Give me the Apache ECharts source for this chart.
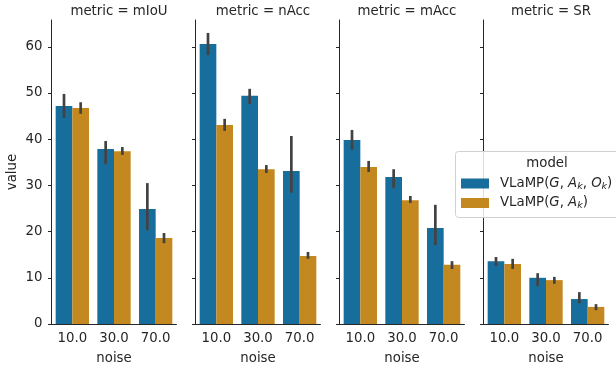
<!DOCTYPE html>
<html>
<head>
<meta charset="utf-8">
<script src="https://cdn.jsdelivr.net/npm/echarts@6/dist/echarts.min.js"></script>
<style>
  html, body { margin: 0; padding: 0; background: #fff; }
  #chart { width: 616px; height: 371px; }
</style>
</head>
<body>
<div id="chart"></div>
<script>
// facets and categories
const metrics = ['mIoU', 'nAcc', 'mAcc', 'SR']
const noise = ['10.0', '30.0', '70.0']
const models = ['VLaMP(G,Ak,Ok)', 'VLaMP(G,Ak)']
const yTicks = [0, 10, 20, 30, 40, 50, 60]

// VLaMP(G, A_k, O_k) — mean and error bar per metric
const fullMean = [[47.2, 37.9, 24.9], [60.6, 49.4, 33.1], [39.8, 31.8, 20.8], [13.6, 10.0, 5.4]]
const fullLow = [[44.6, 34.6, 20.3], [58.2, 47.6, 28.4], [37.7, 29.4, 17.1], [12.6, 8.2, 4.5]]
const fullHigh = [[49.8, 39.6, 30.5], [63.0, 50.9, 40.7], [42.0, 33.5, 25.8], [14.5, 11.0, 6.9]]

// VLaMP(G, A_k)
const partMean = [[46.75, 37.4, 18.6], [43.1, 33.5, 14.7], [34.0, 26.8, 12.8], [13.0, 9.5, 3.7]]
const partLow = [[45.5, 36.6, 17.5], [41.8, 32.7, 14.1], [32.9, 26.2, 11.9], [11.9, 8.7, 3.0]]
const partHigh = [[48.0, 38.3, 19.7], [44.4, 34.4, 15.6], [35.3, 27.7, 13.6], [14.1, 10.2, 4.3]]

const colors = ['#176d9c', '#c3881f']
const ink = '#262626'
const font = 'DejaVu Sans'
const fs = 13.3

const gridLefts = [51.5, 195.5, 339.5, 483.5]
const gridW = 125

const chart = echarts.init(document.getElementById('chart'))

const option = {
  animation: false,
  textStyle: { fontFamily: font },
  title: [],
  grid: [],
  xAxis: [],
  yAxis: [],
  series: [],
  legend: {
    left: 461,
    top: 177,
    padding: 0,
    orient: 'vertical',
    itemWidth: 28,
    itemHeight: 10,
    itemGap: 5,
    icon: 'rect',
    data: models,
    textStyle: {
      fontFamily: font,
      fontSize: fs,
      color: ink,
      rich: {
        f: { fontFamily: font, fontSize: fs, color: ink, padding: [0, 0, 0, 6] },
        n: { fontFamily: font, fontSize: fs, color: ink },
        i: { fontFamily: font, fontSize: fs, fontStyle: 'italic', color: ink },
        s: { fontFamily: font, fontSize: 9.5, fontStyle: 'italic', color: ink, padding: [6, 0, 0, 0] }
      }
    },
    formatter: function (name) {
      if (name === models[0]) {
        return '{f|VLaMP(}{i|G}{n|, }{i|A}{s|k}{n|, }{i|O}{s|k}{n|)}'
      }
      return '{f|VLaMP(}{i|G}{n|, }{i|A}{s|k}{n|)}'
    }
  },
  graphic: [
    {
      type: 'rect',
      z: 3,
      shape: { x: 455.5, y: 151.5, width: 170, height: 66, r: 3 },
      style: { fill: 'rgba(255,255,255,0.85)', stroke: '#d0d0d0', lineWidth: 1 }
    },
    {
      type: 'text',
      z: 4,
      x: 547,
      y: 164,
      style: { text: 'model', fontFamily: font, fontSize: fs, fill: ink, align: 'center', verticalAlign: 'middle' }
    }
  ]
}

function errBars(mi, low, high, side) {
  return {
    type: 'custom',
    xAxisIndex: mi,
    yAxisIndex: mi,
    z: 5,
    silent: true,
    data: noise.map((c, k) => [k, low[mi][k], high[mi][k]]),
    renderItem: function (params, api) {
      const band = api.size([1, 0])[0]
      const top = api.coord([api.value(0), api.value(2)])
      const bot = api.coord([api.value(0), api.value(1)])
      const x = top[0] + side * band * 0.2
      return {
        type: 'line',
        shape: { x1: x, y1: top[1], x2: x, y2: bot[1] },
        style: { stroke: '#424242', lineWidth: 2.7 }
      }
    }
  }
}

metrics.forEach((m, mi) => {
  option.title.push({
    text: 'metric = ' + m,
    left: gridLefts[mi] + gridW / 2,
    top: 0,
    textAlign: 'center',
    textStyle: { fontFamily: font, fontSize: fs, fontWeight: 'normal', color: ink }
  })

  option.grid.push({ left: gridLefts[mi], top: 20, width: gridW, height: 304 })

  option.xAxis.push({
    type: 'category',
    gridIndex: mi,
    data: noise,
    name: 'noise',
    nameLocation: 'middle',
    nameGap: 28,
    nameTextStyle: { fontFamily: font, fontSize: fs, color: ink },
    axisLine: { lineStyle: { color: ink, width: 1 } },
    axisTick: { alignWithLabel: true, length: 3.5, lineStyle: { color: ink } },
    axisLabel: { fontFamily: font, fontSize: fs, color: ink, margin: 8 },
    splitLine: { show: false }
  })

  option.yAxis.push({
    type: 'value',
    gridIndex: mi,
    min: 0,
    max: 65.8,
    name: mi === 0 ? 'value' : '',
    nameLocation: 'middle',
    nameGap: 32,
    nameTextStyle: { fontFamily: font, fontSize: fs, color: ink },
    axisLine: { show: true, lineStyle: { color: ink, width: 1 } },
    axisTick: { show: true, length: 3.5, lineStyle: { color: ink }, customValues: yTicks },
    axisLabel: { show: mi === 0, fontFamily: font, fontSize: fs, color: ink, margin: 9, customValues: yTicks },
    splitLine: { show: false }
  })

  option.series.push({
    type: 'bar',
    name: models[0],
    xAxisIndex: mi,
    yAxisIndex: mi,
    data: fullMean[mi],
    itemStyle: { color: colors[0] },
    barGap: '0%',
    barCategoryGap: '20%'
  })
  option.series.push({
    type: 'bar',
    name: models[1],
    xAxisIndex: mi,
    yAxisIndex: mi,
    data: partMean[mi],
    itemStyle: { color: colors[1] },
    barGap: '0%',
    barCategoryGap: '20%'
  })
  option.series.push(errBars(mi, fullLow, fullHigh, -1))
  option.series.push(errBars(mi, partLow, partHigh, 1))
})

chart.setOption(option)
</script>
</body>
</html>
